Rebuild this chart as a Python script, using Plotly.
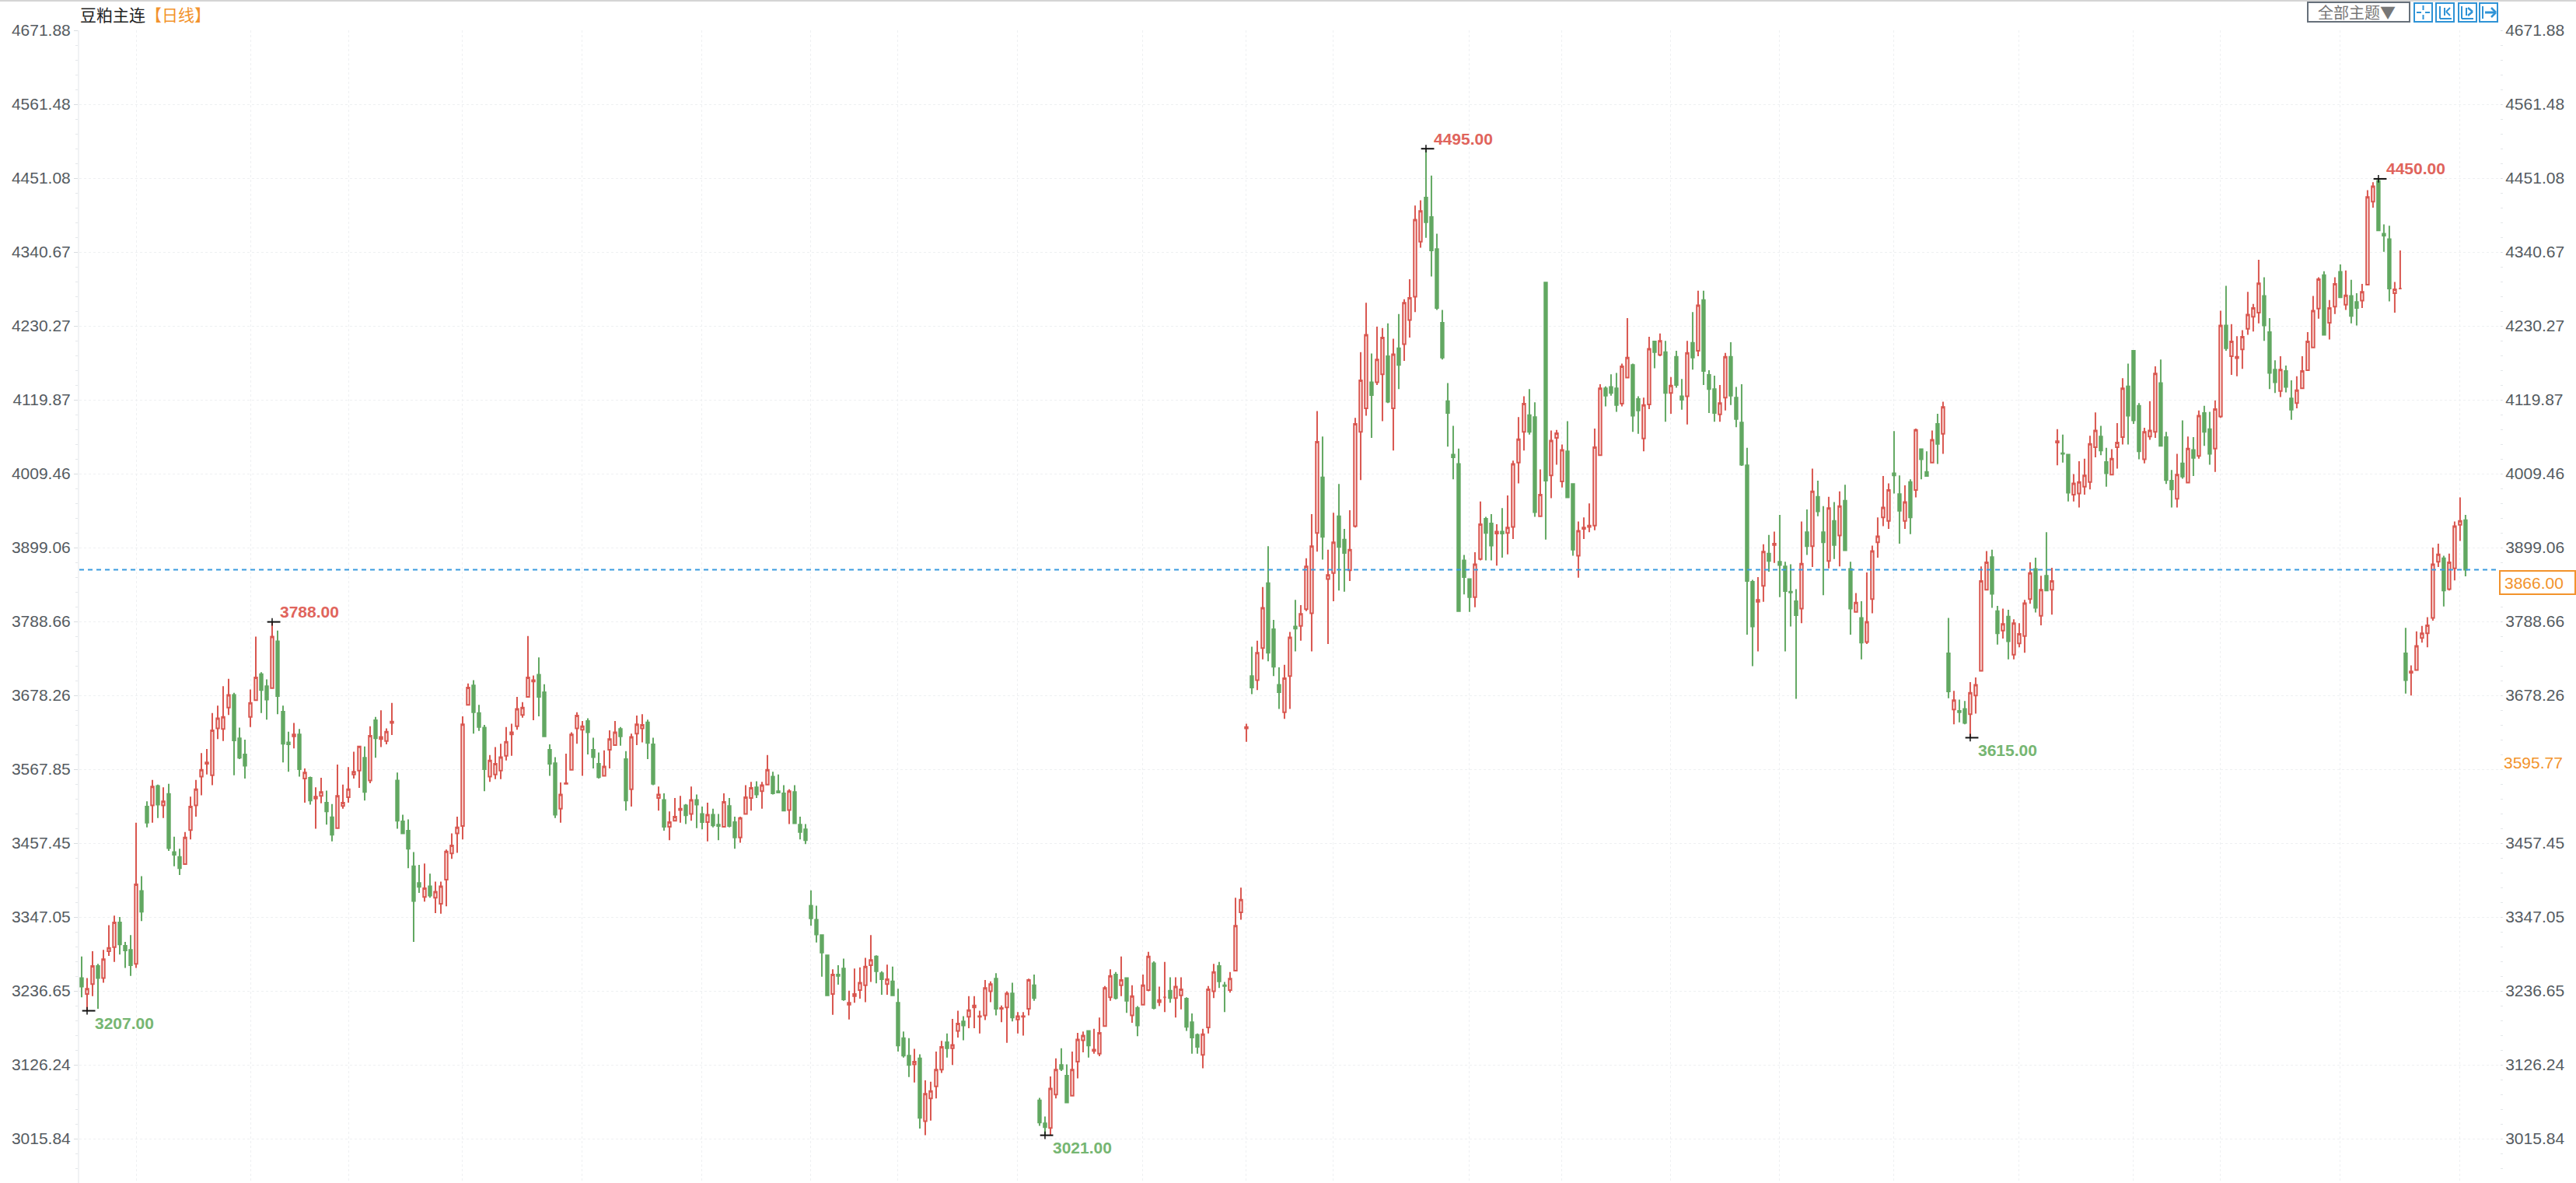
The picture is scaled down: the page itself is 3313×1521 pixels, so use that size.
import plotly.graph_objects as go

FIG_W, FIG_H = 3313, 1521
M_L, M_R, M_T, M_B = 102, 98, 39, 0

title_name = "豆粕主连"
title_period = "【日线】"
theme_button = "全部主题▼"

opens = [
3256,3232,3247,3274,3256,3296,3302,3339,3304,3298,3277,3386,3512,3514,3543,3514,3531,3444,3437,3426,
3477,3514,3557,3576,3559,3629,3628,3660,3679,3614,3590,3646,3671,3710,3692,3689,3759,3654,3608,3617,
3620,3554,3555,3524,3528,3518,3496,3480,3513,3526,3560,3566,3585,3551,3641,3613,3610,3637,3551,3490,
3476,3423,3398,3377,3393,3376,3367,3403,3442,3472,3483,3664,3693,3652,3630,3557,3560,3566,3588,3620,
3632,3649,3676,3699,3709,3683,3597,3577,3509,3546,3567,3629,3627,3640,3597,3576,3558,3597,3604,3628,
3583,3538,3621,3629,3638,3605,3525,3522,3482,3491,3507,3514,3501,3522,3501,3489,3500,3485,3482,3513,
3489,3466,3501,3525,3541,3535,3545,3557,3535,3532,3507,3534,3485,3478,3364,3343,3320,3290,3232,3261,
3270,3216,3229,3238,3245,3275,3288,3263,3247,3251,3219,3166,3140,3127,3136,3042,3076,3094,3119,3160,
3151,3177,3191,3198,3212,3198,3200,3236,3255,3210,3212,3233,3194,3198,3210,3245,3073,3039,3032,3082,
3126,3110,3080,3131,3163,3177,3147,3143,3184,3227,3261,3245,3256,3200,3211,3216,3238,3278,3220,3227,
3237,3226,3230,3225,3190,3171,3141,3182,3236,3274,3245,3238,3267,3354,3629,3707,3701,3749,3846,3777,
3694,3653,3707,3781,3782,3807,3801,3921,4004,3852,3861,3946,3911,3865,3931,4072,4107,4146,4146,4158,
4185,4107,4197,4203,4239,4274,4356,4422,4393,4345,4235,4118,4038,4024,3880,3852,3825,3882,3942,3935,
3920,3923,3921,3930,4026,4072,4097,4094,3946,4295,4007,4063,3998,4043,3994,3887,3927,3930,3932,4037,
4137,4139,4137,4114,4153,4172,4121,4062,4113,4207,4187,4191,4130,4184,4125,4125,4205,4193,4269,4157,
4136,4098,4123,4184,4123,4086,4022,3848,3818,3842,3890,3903,3878,3871,3833,3819,3808,3922,3901,3975,
3922,3879,3939,3917,3969,3867,3803,3794,3758,3822,3907,3944,3939,4010,3979,3939,3997,3985,4046,4012,
4026,4084,4069,3741,3657,3655,3658,3650,3678,3715,3836,3885,3804,3775,3796,3739,3756,3767,3822,3867,
3797,3857,3836,4056,4040,4038,3978,3980,3990,3997,4049,4065,4027,4008,4049,4064,4140,4193,4111,4031,
4065,4072,4145,4064,3999,3972,4025,3996,4045,4036,4100,4076,4047,4095,4231,4185,4182,4195,4226,4244,
4250,4275,4221,4165,4133,4163,4122,4115,4137,4164,4198,4256,4306,4235,4259,4311,4262,4275,4266,4268,
4292,4416,4447,4368,4360,4279,4286,3741,3712,3716,3764,3771,3794,3878,3883,3837,3868,3933,3940]

highs = [
3288,3256,3296,3277,3298,3335,3349,3347,3310,3320,3488,3408,3520,3552,3545,3541,3546,3467,3449,3474,
3527,3552,3592,3598,3652,3663,3692,3703,3682,3630,3612,3687,3766,3713,3702,3788,3775,3663,3624,3637,
3628,3569,3557,3541,3555,3536,3516,3575,3545,3571,3594,3603,3602,3632,3646,3656,3629,3667,3563,3500,
3493,3444,3425,3427,3412,3400,3400,3448,3472,3497,3647,3696,3701,3664,3634,3589,3601,3606,3631,3636,
3676,3668,3767,3708,3735,3695,3605,3586,3548,3591,3623,3653,3640,3644,3615,3593,3596,3626,3640,3631,
3595,3621,3648,3650,3642,3615,3542,3532,3505,3525,3528,3516,3542,3530,3512,3518,3509,3501,3532,3525,
3497,3497,3544,3549,3550,3549,3589,3564,3560,3544,3538,3544,3497,3486,3387,3364,3321,3290,3269,3275,
3285,3237,3270,3272,3286,3320,3290,3266,3276,3273,3240,3176,3166,3150,3142,3103,3101,3146,3162,3173,
3195,3207,3199,3229,3229,3207,3253,3251,3263,3215,3236,3249,3205,3205,3255,3261,3077,3049,3109,3136,
3151,3127,3146,3174,3176,3178,3180,3197,3244,3269,3265,3288,3257,3245,3214,3261,3295,3281,3243,3280,
3257,3257,3257,3227,3203,3173,3180,3244,3277,3280,3250,3265,3376,3391,3636,3751,3760,3840,3901,3791,
3720,3724,3773,3821,3813,3883,3949,4103,4065,3896,3951,3994,3927,3955,4093,4191,4265,4189,4229,4227,
4234,4211,4248,4270,4300,4410,4418,4495,4455,4368,4254,4145,4081,4047,3888,3853,3892,3968,3945,3949,
3934,3958,3977,4029,4094,4125,4136,4116,4016,4295,4074,4075,4053,4088,3995,3938,3944,3965,4077,4143,
4140,4158,4160,4174,4242,4174,4125,4123,4214,4208,4219,4208,4154,4193,4151,4208,4251,4283,4283,4164,
4156,4142,4190,4206,4139,4143,4048,3851,3855,3904,3918,3923,3948,3878,3874,3837,3938,3956,4017,3999,
3961,3975,3967,3983,3993,3878,3831,3819,3862,3902,3944,4006,3995,4073,4007,3992,4001,4077,4047,4043,
4074,4099,4117,3794,3685,3672,3670,3698,3705,3871,3894,3896,3812,3808,3806,3792,3786,3821,3877,3884,
3857,3922,3869,4076,4068,4039,4009,4028,4032,4066,4101,4081,4048,4046,4085,4152,4174,4194,4115,4078,
4118,4170,4180,4072,4015,4039,4089,4065,4064,4104,4111,4102,4119,4253,4290,4233,4215,4224,4281,4263,
4329,4303,4242,4179,4185,4171,4149,4155,4185,4221,4275,4303,4312,4269,4303,4322,4313,4299,4279,4293,
4433,4445,4450,4382,4380,4296,4343,3779,3723,3774,3782,3795,3899,3905,3887,3890,3938,3974,3948]

lows = [
3227,3207,3229,3210,3249,3289,3280,3291,3271,3259,3271,3341,3481,3488,3495,3495,3446,3423,3410,3426,
3463,3497,3529,3560,3544,3613,3610,3649,3559,3583,3554,3631,3671,3652,3642,3689,3650,3578,3564,3599,
3557,3518,3515,3479,3517,3485,3460,3480,3509,3518,3554,3540,3521,3547,3585,3601,3605,3619,3479,3471,
3420,3310,3383,3370,3376,3353,3352,3363,3434,3443,3463,3663,3621,3625,3535,3549,3553,3553,3581,3588,
3627,3645,3676,3641,3647,3617,3558,3495,3488,3546,3567,3606,3558,3590,3569,3554,3558,3569,3603,3603,
3506,3512,3604,3608,3583,3544,3506,3476,3462,3491,3488,3486,3491,3480,3478,3460,3481,3462,3481,3481,
3449,3458,3500,3506,3525,3509,3545,3530,3533,3506,3486,3487,3463,3456,3334,3309,3258,3230,3201,3246,
3222,3194,3219,3225,3220,3250,3248,3231,3231,3230,3146,3137,3108,3100,3031,3021,3043,3076,3114,3137,
3126,3167,3163,3181,3181,3173,3193,3220,3200,3190,3159,3191,3173,3170,3200,3222,3035,3021,3021,3076,
3117,3070,3080,3106,3145,3137,3143,3139,3184,3222,3224,3229,3204,3189,3169,3216,3236,3209,3214,3205,
3219,3197,3209,3177,3143,3143,3121,3173,3226,3241,3205,3234,3267,3343,3609,3680,3686,3732,3729,3707,
3658,3643,3658,3744,3760,3804,3744,3893,3881,3755,3819,3835,3833,3849,3929,4000,4096,4063,4142,4088,
4115,4044,4136,4178,4213,4251,4347,4362,4304,4254,4180,4050,4001,3804,3829,3803,3810,3880,3880,3880,
3872,3884,3889,3912,3995,4044,4068,3945,3946,3911,3973,4023,3989,3974,3887,3854,3912,3922,3925,4037,
4110,4126,4102,4110,4153,4072,4069,4043,4106,4167,4185,4087,4099,4138,4105,4083,4165,4185,4142,4100,
4087,4087,4104,4112,4079,4021,3769,3722,3744,3818,3863,3876,3825,3744,3781,3673,3786,3888,3870,3946,
3828,3868,3882,3871,3895,3769,3802,3732,3755,3801,3884,3931,3927,3980,3905,3927,3919,3974,4001,4006,
4025,4024,4039,3674,3635,3638,3635,3615,3651,3715,3836,3809,3754,3763,3732,3732,3750,3742,3815,3802,
3783,3834,3799,4022,4026,3968,3968,3959,3978,3986,4034,4037,3990,4008,4017,4053,4053,4084,4031,4025,
4060,4063,4051,3994,3959,3959,4002,3996,4006,4032,4051,4023,4012,4093,4193,4157,4155,4166,4217,4222,
4234,4208,4136,4130,4124,4131,4090,4107,4137,4164,4198,4241,4217,4210,4248,4273,4254,4234,4231,4257,
4292,4407,4373,4341,4267,4250,4286,3681,3678,3716,3757,3750,3790,3870,3811,3835,3850,3909,3856]

closes = [
3243,3240,3274,3256,3284,3301,3339,3306,3297,3275,3396,3355,3488,3542,3515,3520,3450,3440,3420,3466,
3512,3538,3567,3578,3626,3644,3646,3679,3611,3585,3573,3667,3705,3686,3672,3766,3677,3606,3605,3620,
3568,3563,3521,3527,3534,3505,3470,3528,3518,3538,3564,3602,3534,3618,3614,3616,3624,3639,3491,3472,
3449,3371,3392,3390,3379,3385,3393,3445,3454,3481,3635,3690,3653,3631,3568,3581,3576,3586,3609,3623,
3658,3660,3705,3701,3676,3617,3576,3500,3530,3547,3620,3648,3632,3623,3586,3556,3572,3613,3623,3617,
3521,3616,3635,3634,3607,3546,3530,3482,3489,3497,3509,3499,3522,3515,3489,3500,3484,3483,3519,3483,
3466,3495,3526,3540,3530,3544,3567,3532,3533,3506,3535,3487,3474,3462,3345,3321,3294,3230,3261,3259,
3224,3219,3232,3249,3273,3283,3266,3254,3254,3230,3155,3140,3126,3131,3047,3083,3087,3119,3153,3151,
3156,3188,3185,3208,3215,3199,3241,3247,3210,3211,3233,3197,3199,3199,3253,3226,3040,3033,3091,3119,
3120,3070,3119,3164,3170,3155,3149,3174,3241,3259,3226,3253,3222,3229,3185,3245,3288,3211,3223,3227,
3226,3243,3239,3183,3167,3153,3172,3239,3265,3251,3244,3255,3334,3373,3631,3690,3742,3809,3742,3721,
3683,3704,3765,3778,3800,3871,3901,4057,3915,3858,3907,3900,3891,3896,4084,4149,4217,4127,4180,4213,
4117,4188,4172,4265,4272,4389,4402,4385,4343,4257,4183,4100,4034,3804,3855,3825,3874,3934,3921,3902,
3923,3920,3929,4024,4061,4114,4072,3952,3978,3999,4059,4070,4045,3974,3896,3924,3929,3932,4049,4137,
4126,4130,4112,4170,4183,4096,4104,4112,4196,4191,4208,4130,4141,4142,4120,4190,4183,4261,4163,4136,
4100,4115,4184,4126,4091,4023,3849,3781,3821,3893,3879,3905,3873,3834,3832,3798,3875,3901,3983,3953,
3907,3958,3903,3961,3895,3808,3817,3757,3788,3894,3916,3959,3985,4007,3954,3967,3944,4075,4031,4006,
4060,4054,4109,3684,3671,3653,3637,3682,3694,3849,3877,3830,3771,3785,3759,3786,3770,3816,3861,3809,
3836,3835,3849,4058,4039,3981,3995,3997,4007,4054,4074,4044,4010,4032,4056,4137,4096,4089,4043,4072,
4074,4159,4051,4000,3986,4008,4005,4047,4033,4096,4072,4039,4106,4231,4197,4207,4184,4214,4247,4257,
4294,4231,4160,4146,4165,4139,4105,4134,4163,4207,4253,4300,4217,4257,4293,4273,4276,4245,4257,4281,
4423,4439,4373,4365,4286,4285,4286,3701,3714,3752,3771,3783,3874,3889,3835,3877,3931,3939,3866]

last_price = 3866
tick_vals_left = [4671.88,4561.48,4451.08,4340.67,4230.27,4119.87,4009.46,3899.06,3788.66,3678.26,3567.85,3457.45,3347.05,3236.65,3126.24,3015.84]
tick_vals_right = [4671.88,4561.48,4451.08,4340.67,4230.27,4119.87,4009.46,3899.06,3788.66,3678.26,3457.45,3347.05,3236.65,3126.24,3015.84]
month_grid_idx = [10,31,49,70,92,114,134,150,172,195,214,230,255,272,292,312,333,356,377,393,415,437]
extreme_idx = [1,35,177,247,347,422]
extreme_val = [3207,3788,3021,4495,3615,4450]
extreme_text = ["3207.00","3788.00","3021.00","4495.00","3615.00","4450.00"]
extreme_kind = ["low","high","low","high","low","high"]

RED, GREEN = "#d9564f", "#62a862"
LABEL_RED, LABEL_GREEN = "#e0645c", "#76b672"
ORANGE = "#f2932c"
BLUE = "#3a9be0"
TXT = "#555b61"

PW, PH = FIG_W - M_L - M_R, FIG_H - M_T - M_B
def px(x): return (x - M_L) / PW
def py(y): return 1 - (y - M_T) / PH

n = len(closes)
xs = list(range(n))
fig = go.Figure()
fig.add_trace(go.Candlestick(
    x=xs, open=opens, high=highs, low=lows, close=closes, whiskerwidth=0,
    increasing=dict(line=dict(color=RED, width=2), fillcolor="#fff8f6"),
    decreasing=dict(line=dict(color=GREEN, width=2), fillcolor=GREEN),
    showlegend=False, yaxis="y"))
fig.add_trace(go.Scatter(x=[-0.43, 444.3], y=[last_price, last_price], mode="lines", yaxis="y2",
    line=dict(color=BLUE, width=2, dash="6px,5px"), showlegend=False, hoverinfo="skip"))
fig.add_trace(go.Scatter(x=[i + 0.3 for i in extreme_idx], y=extreme_val, mode="markers", yaxis="y", showlegend=False, hoverinfo="skip",
    marker=dict(symbol="line-ew", size=12, line=dict(color="#111", width=2))))
fig.add_trace(go.Scatter(x=extreme_idx, y=extreme_val, mode="markers", yaxis="y", showlegend=False, hoverinfo="skip",
    marker=dict(symbol="line-ns", size=7, line=dict(color="#111", width=1.5))))

ann = []
for i, v, t, k in zip(extreme_idx, extreme_val, extreme_text, extreme_kind):
    ann.append(dict(x=i, y=v, xref="x", yref="y", text=f"<b>{t}</b>", showarrow=False, xanchor="left", yanchor="middle",
                    xshift=8, yshift=13 if k == "high" else -16, font=dict(family="Liberation Sans", size=21,
                    color=LABEL_RED if k == "high" else LABEL_GREEN)))
def text_px(x, y, t, size=21, color=TXT, family="Liberation Sans", anchor="left"):
    ann.append(dict(x=px(x), y=py(y), xref="paper", yref="paper", text=t, showarrow=False, xanchor=anchor, yanchor="middle",
                    xshift=0, font=dict(family=family, size=size, color=color)))
text_px(101, 18, f'{title_name}<span style="color:{ORANGE}">{title_period}</span>', 21, "#222", "Noto Sans CJK SC")
text_px(2979, 15, theme_button, 20, "#777", "Noto Sans CJK SC")
text_px(3219, 749, "3866.00", 21, ORANGE)
text_px(3218, 980, "3595.77", 21, ORANGE)

shapes = []
def rect(x0, y0, x1, y1, color, width=2, fill=None):
    shapes.append(dict(type="rect", xref="paper", yref="paper", x0=px(x0), x1=px(x1), y0=py(y0), y1=py(y1),
                       line=dict(color=color, width=width), fillcolor=fill or "rgba(0,0,0,0)"))
def seg(x0, y0, x1, y1, color, width=2):
    shapes.append(dict(type="line", xref="paper", yref="paper", x0=px(x0), x1=px(x1), y0=py(y0), y1=py(y1),
                       line=dict(color=color, width=width)))
seg(0, 1, FIG_W, 1, "#d4d4d4", 2)
rect(2968, 3, 3099, 28, "#66707a", 2)
rect(3215, 734, 3312, 764, ORANGE, 2, "#ffffff")
ICON = "#2f93d6"
for x0 in (3105, 3133, 3162, 3189):
    rect(x0, 4, x0 + 23, 28, ICON, 2)
seg(3108, 16, 3114, 16, ICON, 2); seg(3119, 16, 3125, 16, ICON, 2)
seg(3116.5, 7, 3116.5, 13, ICON, 2); seg(3116.5, 19, 3116.5, 25, ICON, 2)
seg(3138, 8, 3138, 24, ICON, 2); seg(3138, 24, 3153, 24, ICON, 2); seg(3144, 10, 3144, 20, ICON, 2); seg(3151, 10, 3146, 15, ICON, 2); seg(3146, 15, 3151, 20, ICON, 2)
seg(3166, 8, 3166, 24, ICON, 2); seg(3166, 24, 3181, 24, ICON, 2); seg(3172, 10, 3172, 20, ICON, 2); seg(3174, 10, 3180, 15, ICON, 2.5); seg(3180, 15, 3174, 20, ICON, 2.5)
seg(3193, 8, 3193, 24, ICON, 2); seg(3196, 16, 3209, 16, ICON, 3); seg(3204, 10, 3210, 16, ICON, 2.5); seg(3210, 16, 3204, 22, ICON, 2.5)

Y_RANGE = [2949.67, 4671.88]
yaxis_common = dict(range=Y_RANGE, ticks="outside", tickcolor="#d8dcdf", tickwidth=1, zeroline=False,
    tickfont=dict(family="Liberation Sans", size=21, color=TXT),
    minor=dict(dtick=22.08, tick0=3015.84, ticks="outside", ticklen=3, tickcolor="#e4e7ea", showgrid=False))
fig.update_layout(
    width=FIG_W, height=FIG_H, margin=dict(l=M_L, r=M_R, t=M_T, b=M_B, pad=0),
    paper_bgcolor="white", plot_bgcolor="white", showlegend=False, annotations=ann, shapes=shapes,
    xaxis=dict(range=[-0.43, 444.3], tickmode="array", tickvals=month_grid_idx, showticklabels=False, ticks="",
               showgrid=True, gridcolor="#eef0f2", griddash="dot", gridwidth=1, zeroline=False, showline=False,
               rangeslider=dict(visible=False)),
    yaxis=dict(tickmode="array", tickvals=tick_vals_left, ticktext=[f"{v:.2f}" for v in tick_vals_left], ticklen=5,
               showgrid=True, gridcolor="#eef0f2", griddash="dot", gridwidth=1,
               showline=True, linecolor="#f0f2f4", linewidth=2, side="left", **yaxis_common),
    yaxis2=dict(tickmode="array", tickvals=tick_vals_right, ticktext=[f"{v:.2f}" for v in tick_vals_right], ticklen=2,
                showgrid=False, overlaying="y", side="right", showline=False, **yaxis_common),
)
fig.write_html("out.html", config={"displayModeBar": False},
               post_script="document.body.style.margin='0';document.body.style.overflow='hidden';")
